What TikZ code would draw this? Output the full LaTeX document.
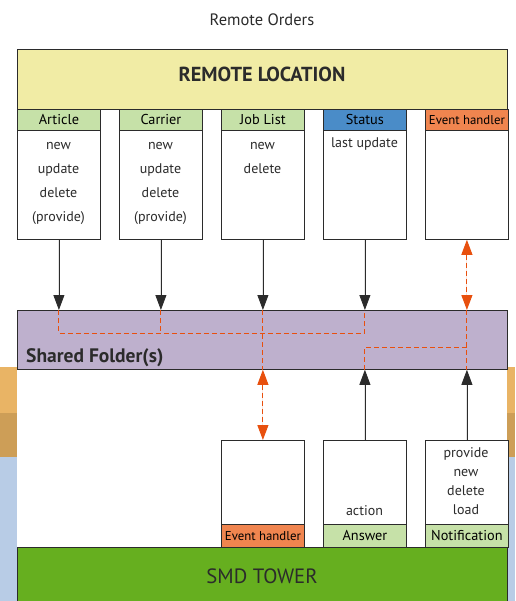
\documentclass[tikz,border=0pt]{standalone}
\usepackage{fontspec}
\setmainfont{PT Sans}
\usetikzlibrary{arrows.meta}

\definecolor{remoteyellow}{HTML}{F1ECA5}
\definecolor{headgreen}{HTML}{C6E1A8}
\definecolor{statusblue}{HTML}{4A8CC8}
\definecolor{eventorange}{HTML}{F0854F}
\definecolor{folderlilac}{HTML}{BEB0CD}
\definecolor{towergreen}{HTML}{66AF1F}
\definecolor{dashorange}{HTML}{E8500E}
\definecolor{bandorange}{HTML}{E9B465}
\definecolor{bandtan}{HTML}{CD9E57}
\definecolor{bandblue}{HTML}{B8CCE6}
\definecolor{boxline}{HTML}{2B2B2B}

\tikzset{
  box/.style={draw=boxline, line width=0.8pt, inner sep=0pt, anchor=north west},
  headbox/.style={box, minimum width=83pt, minimum height=21pt, font=\fontsize{14.3}{16}\selectfont},
  listbox/.style={box, fill=white, minimum width=83pt, minimum height=109pt},
  listtext/.style={inner sep=0pt, align=center, text=boxline, font=\fontsize{14}{24}\selectfont},
  flow/.style={-{Triangle[width=11pt,length=15pt]}, line width=0.8pt, draw=boxline, fill=boxline},
  sync/.style={{Triangle[width=11pt,length=15pt]}-{Triangle[width=11pt,length=15pt]}, line width=1pt, draw=dashorange, fill=dashorange, dash pattern=on 5pt off 3pt},
  link/.style={draw=dashorange, line width=1pt, dash pattern=on 5pt off 3pt}
}

\begin{document}
\begin{tikzpicture}[x=1pt, y=-1pt]
    \useasboundingbox (0,0) rectangle (515,601);
%
    \fill[bandorange] (0,367) rectangle (17,413);
    \fill[bandtan] (0,413) rectangle (17,457);
    \fill[bandblue] (0,457) rectangle (17,601);
    \fill[bandorange] (507,367) rectangle (515,413);
    \fill[bandtan] (507,413) rectangle (515,457);
    \fill[bandblue] (507,457) rectangle (515,601);
%
    \node[text=boxline, font=\fontsize{16.5}{18}\selectfont] (title) at (262,20) {Remote Orders};
%
    \node[box, fill=remoteyellow, minimum width=490pt, minimum height=60pt] (remote) at (17,49) {};
    \node[text=boxline, font=\bfseries\fontsize{20.3}{24}\selectfont] (remotename) at (262,74) {REMOTE LOCATION};
%
    \node[headbox, fill=headgreen] (articlehead) at (17,109) {Article};
    \node[listbox] (article) at (17,130) {};
    \node[listtext, anchor=north] (articletext) at (58.5,142.5) {new\\update\\delete\\(provide)};
%
    \node[headbox, fill=headgreen] (carrierhead) at (119,109) {Carrier};
    \node[listbox] (carrier) at (119,130) {};
    \node[listtext, anchor=north] (carriertext) at (160.5,142.5) {new\\update\\delete\\(provide)};
%
    \node[headbox, fill=headgreen] (joblisthead) at (221,109) {Job List};
    \node[listbox] (joblist) at (221,130) {};
    \node[listtext, anchor=north] (joblisttext) at (262.5,142.5) {new\\delete};
%
    \node[headbox, fill=statusblue] (statushead) at (323,109) {Status};
    \node[listbox] (status) at (323,130) {};
    \node[listtext, anchor=base] (statustext) at (364.5,148) {last update};
%
    \node[headbox, fill=eventorange, font=\fontsize{12.8}{14}\selectfont] (eventhead) at (425,109) {Event handler};
    \node[listbox] (event) at (425,130) {};
%
    \node[box, fill=folderlilac, minimum width=490pt, minimum height=59pt] (folder) at (17,310) {};
    \node[anchor=base west, inner sep=0pt, text=boxline, font=\bfseries\fontsize{19.5}{22}\selectfont] (foldername) at (26,362) {Shared Folder(s)};
    \coordinate (topbus) at (17,333);
    \coordinate (lowbus) at (17,347);
%
    \draw[link] (article.south |- folder.north) -- (article.south |- topbus) -- (status.south |- topbus) -- (status.south |- folder.north);
    \draw[link] (carrier.south |- folder.north) -- (carrier.south |- topbus);
    \draw[link] (joblist.south |- folder.north) -- (joblist.south |- folder.south);
    \draw[link] (event.south |- folder.north) -- (event.south |- folder.south);
    \draw[link] (event.south |- lowbus) -- (status.south |- lowbus) -- (status.south |- folder.south);
%
    \draw[flow] (article.south) -- (article.south |- folder.north);
    \draw[flow] (carrier.south) -- (carrier.south |- folder.north);
    \draw[flow] (joblist.south) -- (joblist.south |- folder.north);
    \draw[flow] (status.south) -- (status.south |- folder.north);
    \draw[sync] (event.south) -- (event.south |- folder.north);
%
    \node[listbox, minimum height=84pt] (eventlow) at (221,440) {};
    \node[headbox, fill=eventorange, minimum height=23pt, font=\fontsize{12.8}{14}\selectfont] (eventlowfoot) at (221,524) {Event handler};
%
    \node[listbox, minimum height=84pt] (answer) at (323,440) {};
    \node[headbox, fill=headgreen, minimum height=23pt] (answerfoot) at (323,524) {Answer};
    \node[listtext, anchor=base] (answertext) at (364.5,515) {action};
%
    \node[listbox, minimum height=84pt] (notification) at (425,440) {};
    \node[headbox, fill=headgreen, minimum height=23pt] (notificationfoot) at (425,524) {Notification};
    \node[listtext, anchor=north, font=\fontsize{14}{19}\selectfont] (notificationtext) at (466,447.5) {provide\\new\\delete\\load};
%
    \draw[sync] (eventlow.north |- folder.south) -- (eventlow.north);
    \draw[flow] (answer.north) -- (answer.north |- folder.south);
    \draw[flow] (notification.north) -- (notification.north |- folder.south);
%
    \node[box, fill=towergreen, minimum width=490pt, minimum height=60pt] (tower) at (17,547) {};
    \node[text=boxline, font=\fontsize{20.7}{24}\selectfont] (towername) at (262,576) {SMD TOWER};
\end{tikzpicture}
\end{document}
